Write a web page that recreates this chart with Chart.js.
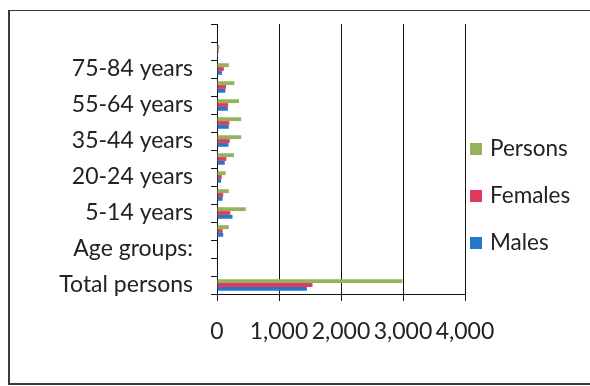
<!DOCTYPE html>
<html>
<head>
<meta charset="utf-8">
<script src="https://cdn.jsdelivr.net/npm/chart.js@4.4.1/dist/chart.umd.min.js"></script>
<style>
  html, body { margin: 0; padding: 0; background: #fff; }
  #wrap { position: relative; width: 590px; height: 386px; }
  canvas { position: absolute; left: 0; top: 0; }
  #frame {
    position: absolute; left: 8px; top: 10px; width: 584px; height: 375px;
    box-sizing: border-box; border: 1px solid #3a3a3a; border-right: none;
    border-left-width: 2px; border-bottom-width: 2px; pointer-events: none;
  }
</style>
</head>
<body>
<div id="wrap">
  <canvas id="c" width="590" height="386"></canvas>
  <div id="frame"></div>
</div>
<script>
// Population by age group (bottom row first)
const categories = [
  'Total persons', '', 'Age groups:', '0-4 years', '5-14 years', '15-19 years',
  '20-24 years', '25-34 years', '35-44 years', '45-54 years', '55-64 years',
  '65-74 years', '75-84 years', '85 years and over', ''
];
const persons = [2990, null, null, 190, 465, 190, 140, 275, 390, 390, 355, 280, 190, 40, null];
const females = [1540, null, null, 90, 215, 100, 75, 150, 205, 200, 180, 145, 110, 25, null];
const males   = [1450, null, null, 100, 250, 90, 65, 125, 185, 190, 175, 135, 80, 15, null];
const xTicks  = [0, 1000, 2000, 3000, 4000];
const seriesNames = ['Persons', 'Females', 'Males'];

const FONT = 'Lato, "Open Sans", sans-serif';
const INK = '#111';

// Legend drawn to the right of the plot
const sideLegend = {
  id: 'sideLegend',
  afterDraw(chart, args, opts) {
    const ctx = chart.ctx;
    ctx.save();
    ctx.font = opts.size + 'px ' + FONT;
    ctx.textBaseline = 'middle';
    ctx.textAlign = 'left';
    chart.data.datasets.forEach((ds, i) => {
      const y = opts.top + i * opts.step;
      ctx.fillStyle = ds.backgroundColor;
      ctx.fillRect(opts.x, y - opts.box / 2, opts.box, opts.box);
      ctx.fillStyle = '#222';
      ctx.fillText(ds.label, opts.x + opts.box + 8, y);
    });
    ctx.restore();
  }
};

new Chart(document.getElementById('c'), {
  type: 'bar',
  data: {
    labels: categories,
    datasets: [
      { label: seriesNames[0], data: persons, backgroundColor: '#94b35a' },
      { label: seriesNames[1], data: females, backgroundColor: '#e23a5d' },
      { label: seriesNames[2], data: males,   backgroundColor: '#2479c9' }
    ]
  },
  options: {
    indexAxis: 'y',
    responsive: false,
    animation: false,
    datasets: { bar: { categoryPercentage: 0.64, barPercentage: 1 } },
    layout: { padding: { left: 0, top: 24, right: 125, bottom: 0 } },
    plugins: {
      legend: { display: false },
      tooltip: { enabled: false },
      sideLegend: { x: 470, top: 149, step: 47, box: 12, size: 22.5 }
    },
    scales: {
      x: {
        min: 0, max: 4000,
        afterBuildTicks: s => { s.ticks = xTicks.map(v => ({ value: v })); },
        afterFit: s => { s.height = 92; s.paddingLeft = 0; s.paddingRight = 0; },
        grid: { color: INK, lineWidth: 1, drawTicks: true, tickLength: 7 },
        border: { color: INK, width: 1 },
        ticks: {
          color: '#222', font: { family: FONT, size: 23 }, padding: 17,
          maxRotation: 0, autoSkip: false,
          callback: v => Number(v).toLocaleString('en-US')
        }
      },
      y: {
        reverse: true,
        afterFit: s => { s.width = 217; s.paddingTop = 0; s.paddingBottom = 0; },
        grid: { drawOnChartArea: false, color: INK, drawTicks: true, tickLength: 6, offset: true },
        border: { color: INK, width: 1 },
        ticks: {
          color: '#222', font: { family: FONT, size: 23 }, padding: 18, autoSkip: false,
          callback: (v, i) => (i % 2 === 0 ? categories[v] : '')
        }
      }
    }
  },
  plugins: [sideLegend]
});
</script>
</body>
</html>
